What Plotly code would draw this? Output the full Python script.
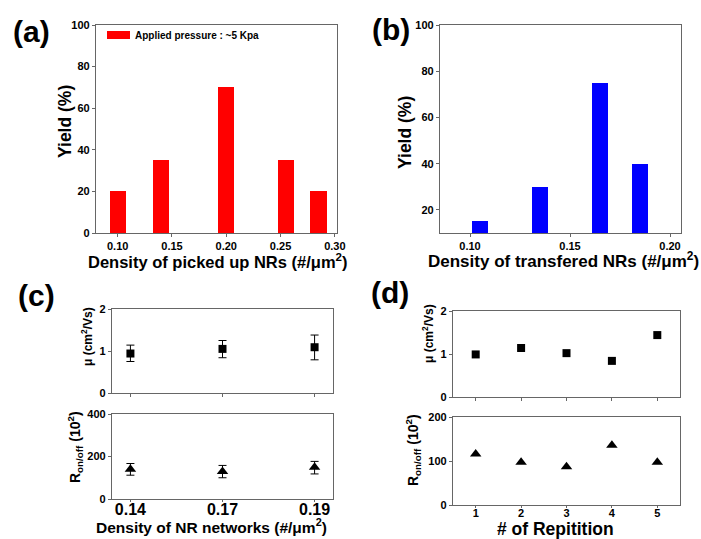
import plotly.graph_objects as go

# ---------------- data ----------------
a_density = [0.10, 0.14, 0.20, 0.255, 0.285]
a_yield = [20, 35, 70, 35, 20]

b_density = [0.105, 0.135, 0.165, 0.185]
b_yield = [15, 30, 75, 40]

c_density = ["0.14", "0.17", "0.19"]
c_mu = [0.94, 1.05, 1.09]
c_mu_err_plus = [0.20, 0.20, 0.29]
c_mu_err_minus = [0.19, 0.21, 0.30]
c_ron = [140, 129, 150]
c_ron_err_plus = [27, 29, 27]
c_ron_err_minus = [28, 29, 32]

d_rep = [1, 2, 3, 4, 5]
d_mu = [0.99, 1.14, 1.02, 0.84, 1.44]
d_ron = [116, 97, 87, 136, 97]

W, H = 701, 539
FONT = "Liberation Sans, Arial, sans-serif"
AXC = "#666666"


def px(x):
    return x / W


def py(y):
    return 1 - y / H


fig = go.Figure()

fig.add_trace(go.Bar(x=a_density, y=a_yield, width=0.015, marker=dict(color="#ff0000", line=dict(width=0)),
                     xaxis="x", yaxis="y", showlegend=False))
fig.add_trace(go.Bar(x=b_density, y=b_yield, width=0.008, marker=dict(color="#0000ff", line=dict(width=0)),
                     xaxis="x2", yaxis="y2", showlegend=False))
fig.add_trace(go.Scatter(x=c_density, y=c_mu, mode="markers",
                         marker=dict(symbol="square", size=8, color="black"),
                         error_y=dict(type="data", array=c_mu_err_plus, arrayminus=c_mu_err_minus,
                                      color="black", thickness=1, width=4),
                         xaxis="x3", yaxis="y3", showlegend=False))
fig.add_trace(go.Scatter(x=c_density, y=c_ron, mode="markers",
                         marker=dict(symbol="triangle-up", size=10, color="black"),
                         error_y=dict(type="data", array=c_ron_err_plus, arrayminus=c_ron_err_minus,
                                      color="black", thickness=1, width=4),
                         xaxis="x4", yaxis="y4", showlegend=False))
fig.add_trace(go.Scatter(x=d_rep, y=d_mu, mode="markers",
                         marker=dict(symbol="square", size=8, color="black"),
                         xaxis="x5", yaxis="y5", showlegend=False))
fig.add_trace(go.Scatter(x=d_rep, y=d_ron, mode="markers",
                         marker=dict(symbol="triangle-up", size=10, color="black"),
                         xaxis="x6", yaxis="y6", showlegend=False))


def ax(domain, anchor, rng, **kw):
    d = dict(domain=domain, anchor=anchor, range=rng, showline=True, mirror=True,
             linecolor=AXC, linewidth=1.2, ticks="outside", ticklen=3, tickcolor=AXC,
             showgrid=False, zeroline=False, automargin=False,
             tickfont=dict(family=FONT, size=11, color="black", weight="bold"))
    d.update(kw)
    return d


a_x = [px(96), px(337)]
a_y = [py(233), py(25)]
b_x = [px(440), px(681)]
c_x = [px(112), px(333)]
c1_y = [py(393), py(309)]
c2_y = [py(499), py(414)]
d_x = [px(453), px(680)]
d1_y = [py(397), py(311)]
d2_y = [py(505), py(417)]

fig.update_layout(
    template="none",
    width=W, height=H, margin=dict(l=0, r=0, t=0, b=0, pad=0, autoexpand=False),
    paper_bgcolor="white", plot_bgcolor="white", bargap=0, showlegend=False,
    xaxis=ax(a_x, "y", [0.08, 0.302], tickvals=[0.10, 0.15, 0.20, 0.25, 0.30],
             ticktext=["0.10", "0.15", "0.20", "0.25", "0.30"]),
    yaxis=ax(a_y, "x", [0, 100], tickvals=[0, 20, 40, 60, 80, 100]),
    xaxis2=ax(b_x, "y2", [0.085, 0.2055], tickvals=[0.10, 0.15, 0.20],
              ticktext=["0.10", "0.15", "0.20"]),
    yaxis2=ax(a_y, "x2", [10, 100], tickvals=[20, 40, 60, 80, 100]),
    xaxis3=ax(c_x, "y3", [-0.2, 2.2], type="category", showticklabels=False),
    yaxis3=ax(c1_y, "x3", [0, 2], tickvals=[0, 1, 2]),
    xaxis4=ax(c_x, "y4", [-0.2, 2.2], type="category", ticklen=2, ticklabelstandoff=-6,
              tickfont=dict(family=FONT, size=16, color="black", weight="bold")),
    yaxis4=ax(c2_y, "x4", [0, 400], tickvals=[0, 200, 400]),
    xaxis5=ax(d_x, "y5", [0.5, 5.5], tickvals=d_rep, showticklabels=False),
    yaxis5=ax(d1_y, "x5", [0, 2], tickvals=[0, 1, 2]),
    xaxis6=ax(d_x, "y6", [0.5, 5.5], tickvals=d_rep, ticklen=2, ticklabelstandoff=-4),
    yaxis6=ax(d2_y, "x6", [0, 200], tickvals=[0, 100, 200]),
)

ann = []


def text(x, y, s, size, angle=0, xanchor="center"):
    ann.append(dict(x=px(x), y=py(y), xref="paper", yref="paper", text=s, showarrow=False,
                    textangle=angle, xanchor=xanchor, yanchor="middle",
                    font=dict(family=FONT, size=size, color="black", weight="bold")))


# panel labels
text(31, 31, "(a)", 30)
text(391, 29, "(b)", 30)
text(36, 295, "(c)", 30)
text(390, 292, "(d)", 30)

# axis titles
text(218, 261, "Density of picked up NRs (#/μm<sup>2</sup>)", 16.5)
text(563, 260, "Density of transfered NRs (#/μm<sup>2</sup>)", 17)
text(211, 526, "Density of NR networks (#/μm<sup>2</sup>)", 15.5)
text(555, 529, "# of Repitition", 17.5)
text(65, 122, "Yield (%)", 17.5, angle=-90)
text(405, 132, "Yield (%)", 17.5, angle=-90)
text(87, 337, "μ (cm<sup>2</sup>/Vs)", 12, angle=-90)
text(75, 447, "R<sub>on/off</sub> (10<sup>2</sup>)", 14, angle=-90)
text(428, 333, "μ (cm<sup>2</sup>/Vs)", 12, angle=-90)
text(413, 450, "R<sub>on/off</sub> (10<sup>2</sup>)", 14, angle=-90)

# legend
text(133, 35, "Applied pressure : ~5 Kpa", 10, xanchor="left")
fig.update_layout(annotations=ann)
fig.add_shape(type="rect", xref="paper", yref="paper", x0=px(107), x1=px(130), y0=py(39), y1=py(31),
              fillcolor="#ff0000", line=dict(width=0))

fig.write_html("out.html", config={"displayModeBar": False},
               post_script="document.body.style.margin='0px';document.body.style.overflow='hidden';")
